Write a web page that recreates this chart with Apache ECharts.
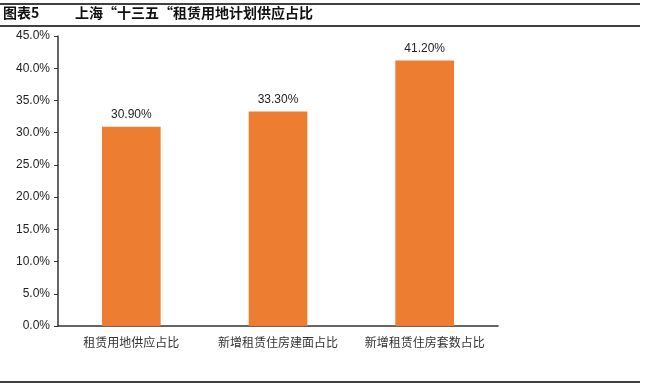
<!DOCTYPE html>
<html><head><meta charset="utf-8">
<script src="https://cdn.jsdelivr.net/npm/echarts@6/dist/echarts.min.js"></script>
<style>html,body{margin:0;padding:0;background:#fff}#c{width:656px;height:385px}</style>
</head><body><div id="c"></div>
<script>
const categories = ['租赁用地供应占比', '新增租赁住房建面占比', '新增租赁住房套数占比'];
const values = [30.9, 33.3, 41.2];
const yTicks = [0, 5, 10, 15, 20, 25, 30, 35, 40, 45];

const chart = echarts.init(document.getElementById('c'));
chart.setOption({
  animation: false,
  backgroundColor: '#fff',
  grid: { left: 58, right: 158, top: 36, bottom: 59 },
  graphic: [
    { type: 'line', shape: { x1: 0, y1: 4, x2: 640, y2: 4 }, style: { stroke: '#000', lineWidth: 1.5 } },
    { type: 'line', shape: { x1: 0, y1: 26, x2: 640, y2: 26 }, style: { stroke: '#000', lineWidth: 1.5 } },
    { type: 'line', shape: { x1: 0, y1: 382, x2: 640, y2: 382 }, style: { stroke: '#000', lineWidth: 1.5 } },
    { type: 'text', left: 3, top: 6, style: { text: '图表5', font: 'bold 14px "Noto Sans CJK SC"', fill: '#111' } },
    { type: 'text', left: 75, top: 6, style: { text: '上海“十三五“租赁用地计划供应占比', font: 'bold 14px "Noto Sans CJK SC"', fill: '#111' } }
  ],
  xAxis: {
    type: 'category',
    data: categories,
    axisLine: { lineStyle: { color: '#333', width: 1.5 } },
    axisTick: { show: false },
    axisLabel: { interval: 0, hideOverlap: false, color: '#333', fontSize: 12, fontFamily: 'Noto Sans CJK SC', margin: 10 }
  },
  yAxis: {
    type: 'value',
    min: yTicks[0],
    max: yTicks[yTicks.length - 1],
    interval: 5,
    axisLine: { show: true, lineStyle: { color: '#333', width: 1.5 } },
    axisTick: { show: true, length: 4, lineStyle: { color: '#333' } },
    splitLine: { show: false },
    axisLabel: { color: '#222', fontSize: 12, fontFamily: 'Liberation Sans', margin: 8,
      formatter: v => v.toFixed(1) + '%' }
  },
  series: [{
    type: 'bar',
    data: values,
    barWidth: '40%',
    itemStyle: { color: '#ED7D31' },
    label: { show: true, position: 'top', distance: 6, color: '#222', fontSize: 12,
      fontFamily: 'Liberation Sans', formatter: p => p.value.toFixed(2) + '%' }
  }]
});
</script></body></html>
